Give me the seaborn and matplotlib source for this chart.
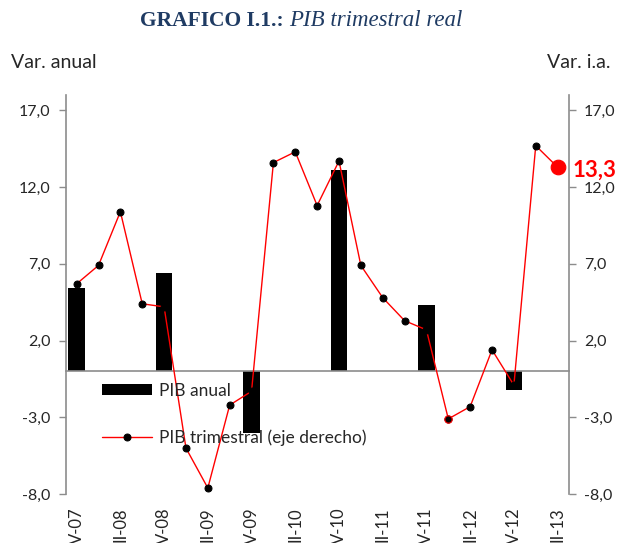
import numpy as np
import pandas as pd
import matplotlib
matplotlib.use("Agg")
import matplotlib.pyplot as plt
import matplotlib.ticker as ticker
import seaborn as sns

# quarters IV-07 .. II-13 (labels shown every two quarters)
quarters = ["IV-07", "I-08", "II-08", "III-08", "IV-08", "I-09", "II-09", "III-09",
            "IV-09", "I-10", "II-10", "III-10", "IV-10", "I-11", "II-11", "III-11",
            "IV-11", "I-12", "II-12", "III-12", "IV-12", "I-13", "II-13"]
tick_labels = ["V-07", "II-08", "V-08", "II-09", "V-09", "II-10",
               "V-10", "II-11", "V-11", "II-12", "V-12", "II-13"]

# PIB trimestral (var. i.a., eje derecho)
pib_trim = [5.7, 6.9, 10.4, 4.4, 4.2, -5.0, -7.6, -2.2, -1.3, 13.6, 14.3, 10.8,
            13.7, 6.9, 4.8, 3.3, 2.7, -3.1, -2.3, 1.4, -0.9, 14.7, 13.3]

# PIB anual (var. anual), only fourth quarters
annual_quarters = ["IV-07", "IV-08", "IV-09", "IV-10", "IV-11", "IV-12"]
pib_anual = [5.4, 6.4, -4.0, 13.1, 4.3, -1.2]

sns.set_style("white")
plt.rcParams["font.family"] = ["Lato", "DejaVu Sans"]
plt.rcParams["font.size"] = 11.5

GRAY = "#8c8c8c"
TITLE_BLUE = "#1f3b63"

fig = plt.figure(figsize=(6.2, 5.43), dpi=100)
ax = fig.add_axes([0.106, 0.090, 0.811, 0.735])

df_anual = pd.DataFrame({"trimestre": annual_quarters, "valor": pib_anual})
sns.barplot(data=df_anual, x="trimestre", y="valor", order=quarters,
            color="black", width=0.75, saturation=1, ax=ax,
            label="PIB anual", linewidth=0)

ax2 = ax.twinx()
df_trim = pd.DataFrame({"pos": np.arange(len(quarters)), "valor": pib_trim})
sns.lineplot(data=df_trim, x="pos", y="valor", ax=ax2, color="red", linewidth=1,
             marker="o", markersize=5, markerfacecolor="black",
             markeredgecolor="black", label="PIB trimestral (eje derecho)")

# lowest point of 2012 drawn with red edge, as in the original
low = df_trim.iloc[[17]]
sns.scatterplot(data=low, x="pos", y="valor", ax=ax2, color="black", s=28,
                edgecolor="red", linewidth=0.8, zorder=4, legend=False)

# highlight last observation
last = df_trim.iloc[[-1]]
sns.scatterplot(data=last, x="pos", y="valor", ax=ax2, color="red", s=110,
                edgecolor="red", zorder=5, legend=False)
ax2.annotate(f"{pib_trim[-1]:.1f}".replace(".", ","),
             xy=(last["pos"].iloc[0], last["valor"].iloc[0]),
             xytext=(11, -2), textcoords="offset points", va="center", ha="left",
             color="red", fontsize=16, fontweight="bold", annotation_clip=False)

for a in (ax, ax2):
    a.set_ylim(-8, 18)
    a.set_xlim(-0.5, len(quarters) - 0.5)
    a.set_xlabel("")
    a.set_ylabel("")
    a.yaxis.set_major_locator(ticker.FixedLocator([-8, -3, 2, 7, 12, 17]))
    a.yaxis.set_major_formatter(ticker.FuncFormatter(lambda v, p: f"{v:.1f}".replace(".", ",")))
    for s in a.spines.values():
        s.set_visible(False)

ax.spines["left"].set_visible(True)
ax.spines["left"].set_color(GRAY)
ax.spines["left"].set_linewidth(1.2)
ax2.spines["right"].set_visible(True)
ax2.spines["right"].set_color(GRAY)
ax2.spines["right"].set_linewidth(1.2)

# x axis line at zero with ticks between categories
ax.spines["bottom"].set_visible(True)
ax.spines["bottom"].set_position(("data", 0))
ax.spines["bottom"].set_color(GRAY)
ax.spines["bottom"].set_linewidth(1.2)
ax.xaxis.set_minor_locator(ticker.FixedLocator(np.arange(0.5, len(quarters) - 1, 1)))
ax.xaxis.set_major_locator(ticker.FixedLocator(np.arange(0, len(quarters), 2)))
ax.set_xticklabels(tick_labels, rotation=90, va="top")
ax.tick_params(axis="x", which="major", length=0, pad=98, labelsize=12)
ax.tick_params(axis="x", which="minor", length=5, width=1, color=GRAY, direction="out")
ax.tick_params(axis="y", left=True, length=5, width=1, color=GRAY, direction="out", pad=6)
ax2.tick_params(axis="y", right=True, length=5, width=1, color=GRAY, direction="out", pad=6)

# legend
h1, l1 = ax.get_legend_handles_labels()
h2, l2 = ax2.get_legend_handles_labels()
if ax.get_legend():
    ax.get_legend().remove()
ax2.legend(h1 + h2, l1 + l2, loc="upper left", bbox_to_anchor=(0.072, 0.279),
           frameon=False, borderpad=0, borderaxespad=0, handlelength=2.9,
           handleheight=0.65, handletextpad=0.4, labelspacing=1.75, fontsize=12.5)

# headers
fig.text(0.458, 0.962, "GRAFICO I.1.:", ha="right", va="center", color=TITLE_BLUE,
         fontsize=15.5, fontweight="bold", family="Liberation Serif")
fig.text(0.467, 0.962, "PIB trimestral real", ha="left", va="center", color=TITLE_BLUE,
         fontsize=16.5, fontstyle="italic", family="Liberation Serif")
fig.text(0.018, 0.884, "Var. anual", ha="left", va="center", fontsize=14)
fig.text(0.984, 0.884, "Var. i.a.", ha="right", va="center", fontsize=14)

fig.savefig("out.png", dpi=100)
